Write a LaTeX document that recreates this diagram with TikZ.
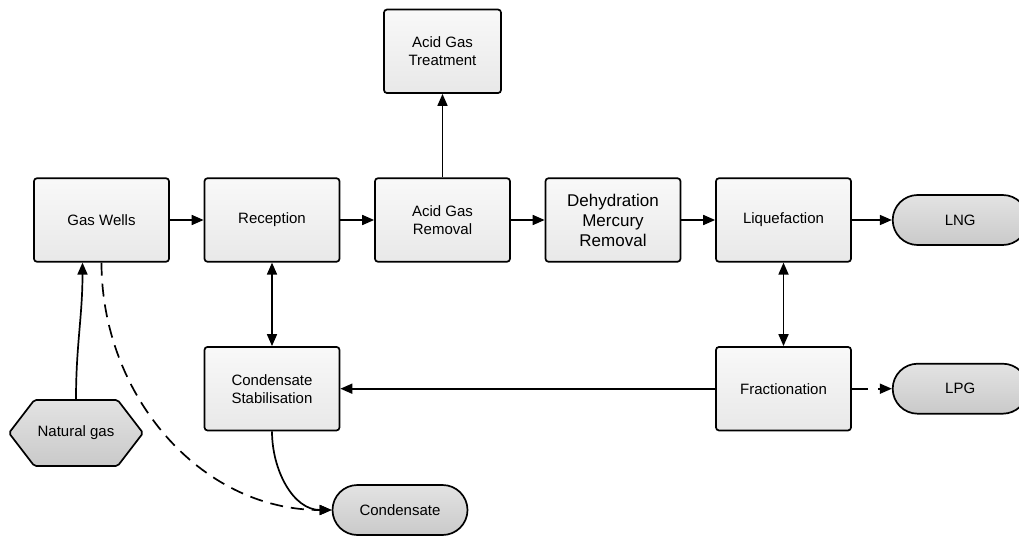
\documentclass[tikz,border=0pt]{standalone}
\usepackage{fontspec}
\setmainfont{Liberation Sans}
\usetikzlibrary{arrows.meta,positioning,shapes.symbols}

\begin{document}
\begin{tikzpicture}[
font=\fontsize{15}{18}\selectfont,
unit/.style={draw,line width=1.7pt,rounded corners=3pt,align=center,minimum width=135pt,minimum height=83.5pt,inner sep=2pt,top color=gray!5,bottom color=gray!18},
product/.style={draw,line width=1.7pt,rounded corners=25pt,minimum width=135pt,minimum height=50pt,top color=gray!22,bottom color=gray!42},
source/.style={draw,line width=1.7pt,signal,signal to=west and east,signal pointer angle=105,minimum width=132pt,minimum height=66pt,top color=gray!22,bottom color=gray!42,rounded corners=2pt},
arr/.style={-{Triangle[length=12pt,width=10pt]},line width=1.7pt},
biarr/.style={{Triangle[length=12pt,width=10pt]}-{Triangle[length=12pt,width=10pt]},line width=1.7pt}]
\useasboundingbox (0,0) rectangle (1019pt,-535pt);
\node[unit](wells) at (101.5pt,-220pt){Gas Wells};
\node[unit,right=33.8pt of wells](reception){Reception};
\node[unit,right=33.8pt of reception](removal){Acid Gas\\Removal};
\node[unit,right=33.8pt of removal,font=\fontsize{17}{20}\selectfont](dehydration){Dehydration\\Mercury\\Removal};
\node[unit,right=33.8pt of dehydration](liquefaction){Liquefaction};
\node[unit,minimum width=117pt,above=83.5pt of removal](treatment){Acid Gas\\Treatment};
\node[unit,below=83.5pt of reception](stabilisation){Condensate\\Stabilisation};
\node[unit,below=83.5pt of liquefaction](fractionation){Fractionation};
\node[product,right=40pt of liquefaction](lng){LNG};
\node[product,right=40pt of fractionation](lpg){LPG};
\node[source](natgas) at (76pt,-433pt){Natural gas};
\node[product](condensate) at (400pt,-510pt){Condensate};
\draw[arr](wells)--(reception);
\draw[arr](reception)--(removal);
\draw[arr](removal)--(dehydration);
\draw[arr](dehydration)--(liquefaction);
\draw[arr](liquefaction)--(lng);
\draw[arr](removal)--(treatment);
\draw[biarr](reception)--(stabilisation);
\draw[biarr](liquefaction)--(fractionation);
\draw[arr](fractionation)--(stabilisation);
\draw[arr,dash pattern=on 16pt off 10pt](fractionation)--(lpg);
\draw[arr](natgas.north) to[out=90,in=-90] ([xshift=-19pt]wells.south);
\draw[arr,dash pattern=on 13pt off 8pt](wells.south) to[out=-90,in=180] (condensate.west);
\draw[arr](stabilisation.south) to[out=-90,in=180] (condensate.west);
\end{tikzpicture}
\end{document}
